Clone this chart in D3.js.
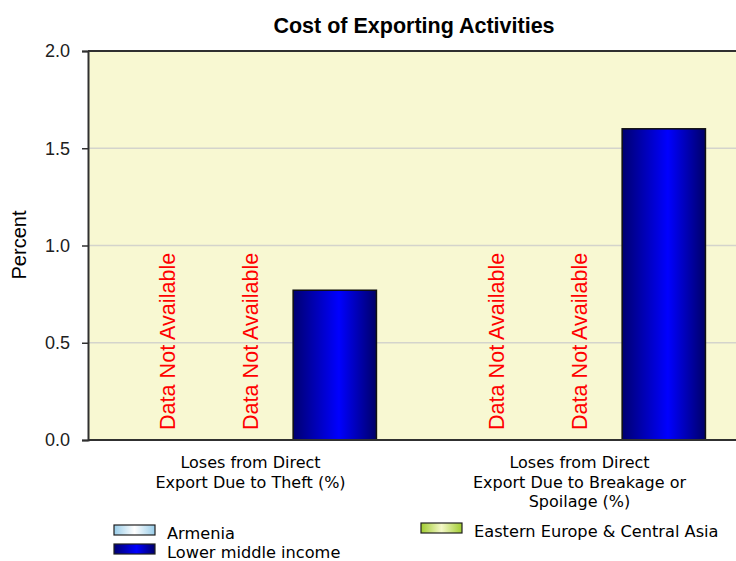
<!DOCTYPE html>
<html>
<head>
<meta charset="utf-8">
<script src="https://cdn.jsdelivr.net/npm/d3@7/dist/d3.min.js"></script>
<style>
  html, body { margin: 0; padding: 0; background: #ffffff; }
  svg { display: block; }
</style>
</head>
<body>
<svg id="chart" width="736" height="561"></svg>
<script>
// Chart data
const title = "Cost of Exporting Activities";
const yLabel = "Percent";
const categories = ["theft", "breakage"];
const categoryLines = [
  ["Loses from Direct", "Export Due to Theft (%)"],
  ["Loses from Direct", "Export Due to Breakage or", "Spoilage (%)"]
];
const seriesNames = ["Armenia", "Eastern Europe & Central Asia", "Lower middle income"];
const armeniaValues = [null, null];
const eecaValues = [null, null];
const lowerMiddleValues = [0.77, 1.6];
const yTicks = [0, 0.5, 1.0, 1.5, 2.0];
const missingText = "Data Not Available";

const seriesValues = [armeniaValues, eecaValues, lowerMiddleValues];

const svg = d3.select("#chart");
const plot = { left: 88, top: 51, bottom: 440, right: 745 };

const y = d3.scaleLinear().domain([0, 2]).range([plot.bottom, plot.top]);
const x = d3.scaleBand().domain(categories).range([87, 745]).paddingInner(0).paddingOuter(0);
const xInner = d3.scaleBand().domain(seriesNames).range([0, x.bandwidth()])
  .paddingInner(0).paddingOuter(0.475);

// Gradients for bars and legend swatches
const defs = svg.append("defs");
function hGrad(id, stops) {
  const g = defs.append("linearGradient").attr("id", id)
    .attr("x1", "0%").attr("x2", "100%").attr("y1", "0%").attr("y2", "0%");
  stops.forEach(s => g.append("stop").attr("offset", s[0]).attr("stop-color", s[1]));
}
hGrad("gBlue", [["0%", "#000070"], ["55%", "#0000ff"], ["100%", "#000068"]]);
hGrad("gLight", [["0%", "#98cce8"], ["50%", "#ffffff"], ["100%", "#98cce8"]]);
hGrad("gGreen", [["0%", "#a0cc30"], ["50%", "#f4f8c8"], ["100%", "#a0cc30"]]);
const fills = {
  "Armenia": "url(#gLight)",
  "Eastern Europe & Central Asia": "url(#gGreen)",
  "Lower middle income": "url(#gBlue)"
};

// Plot background
svg.append("rect")
  .attr("x", plot.left).attr("y", plot.top)
  .attr("width", plot.right - plot.left).attr("height", plot.bottom - plot.top)
  .attr("fill", "#f8f8d2");

// Gridlines
svg.append("g").selectAll("line")
  .data(yTicks.filter(t => t > 0 && t < 2))
  .join("line")
  .attr("x1", plot.left).attr("x2", plot.right)
  .attr("y1", d => y(d)).attr("y2", d => y(d))
  .attr("stroke", "#d4d4cc").attr("stroke-width", 1.5);

// Top frame line
svg.append("line")
  .attr("x1", plot.left).attr("x2", plot.right)
  .attr("y1", plot.top).attr("y2", plot.top)
  .attr("stroke", "#303030").attr("stroke-width", 2);

// Bars and missing-data labels
const groups = svg.append("g").selectAll("g")
  .data(categories)
  .join("g")
  .attr("transform", d => `translate(${x(d)},0)`);

groups.each(function(cat, ci) {
  const g = d3.select(this);
  seriesNames.forEach((s, si) => {
    const v = seriesValues[si][ci];
    const bx = xInner(s);
    if (v == null) {
      const cx = bx + xInner.bandwidth() / 2;
      g.append("text")
        .attr("transform", `translate(${cx + 6.5},${y(0) - 10}) rotate(-90)`)
        .attr("font-family", "Liberation Sans, Arial, sans-serif")
        .attr("font-size", 21.6)
        .attr("fill", "#ff0000")
        .text(missingText);
    } else {
      g.append("rect")
        .attr("x", bx).attr("y", y(v))
        .attr("width", xInner.bandwidth()).attr("height", y(0) - y(v))
        .attr("fill", fills[s])
        .attr("stroke", "#101010").attr("stroke-width", 1.5);
    }
  });
});

// Y axis
const yAxis = d3.axisLeft(y).tickValues(yTicks).tickFormat(d3.format(".1f"))
  .tickSize(6).tickPadding(12);
const yg = svg.append("g").attr("transform", `translate(${plot.left},0)`).call(yAxis);
yg.select(".domain").attr("stroke", "#303030").attr("stroke-width", 2);
yg.selectAll(".tick line").attr("stroke", "#303030").attr("stroke-width", 1.5);
yg.selectAll(".tick text")
  .attr("font-family", "Liberation Sans, Arial, sans-serif")
  .attr("font-size", 18).attr("fill", "#202020");

// X axis baseline
svg.append("line")
  .attr("x1", plot.left).attr("x2", plot.right)
  .attr("y1", plot.bottom).attr("y2", plot.bottom)
  .attr("stroke", "#303030").attr("stroke-width", 2);

// Category labels, one text per line
const catGroups = svg.append("g").selectAll("g")
  .data(categories)
  .join("g");
catGroups.each(function(d, i) {
  const g = d3.select(this);
  categoryLines[i].forEach((line, li) => {
    g.append("text")
      .attr("x", x(d) + x.bandwidth() / 2 - 1)
      .attr("y", 468 + li * 19.5)
      .attr("text-anchor", "middle")
      .attr("font-family", "DejaVu Sans, sans-serif")
      .attr("font-size", 16)
      .attr("fill", "#000")
      .text(line);
  });
});

// Y axis title
svg.append("text")
  .attr("transform", `translate(26,${245}) rotate(-90)`)
  .attr("text-anchor", "middle")
  .attr("font-family", "Liberation Sans, Arial, sans-serif")
  .attr("font-size", 20)
  .attr("fill", "#000")
  .text(yLabel);

// Chart title
svg.append("text")
  .attr("x", 414).attr("y", 33)
  .attr("text-anchor", "middle")
  .attr("font-family", "Liberation Sans, Arial, sans-serif")
  .attr("font-weight", "bold")
  .attr("font-size", 21.5)
  .attr("fill", "#000")
  .text(title);

// Legend
const legendItems = [
  { name: seriesNames[0], x: 114, y: 525 },
  { name: seriesNames[1], x: 421, y: 523 },
  { name: seriesNames[2], x: 114, y: 544 }
];
const lg = svg.append("g").selectAll("g")
  .data(legendItems)
  .join("g")
  .attr("transform", d => `translate(${d.x},${d.y})`);
lg.append("rect")
  .attr("width", 41).attr("height", 10)
  .attr("fill", d => fills[d.name])
  .attr("stroke", "#202020").attr("stroke-width", 1.2);
lg.append("text")
  .attr("x", 53).attr("y", 14)
  .attr("font-family", "DejaVu Sans, sans-serif")
  .attr("font-size", 16.2)
  .attr("fill", "#000")
  .text(d => d.name);
</script>
</body>
</html>
